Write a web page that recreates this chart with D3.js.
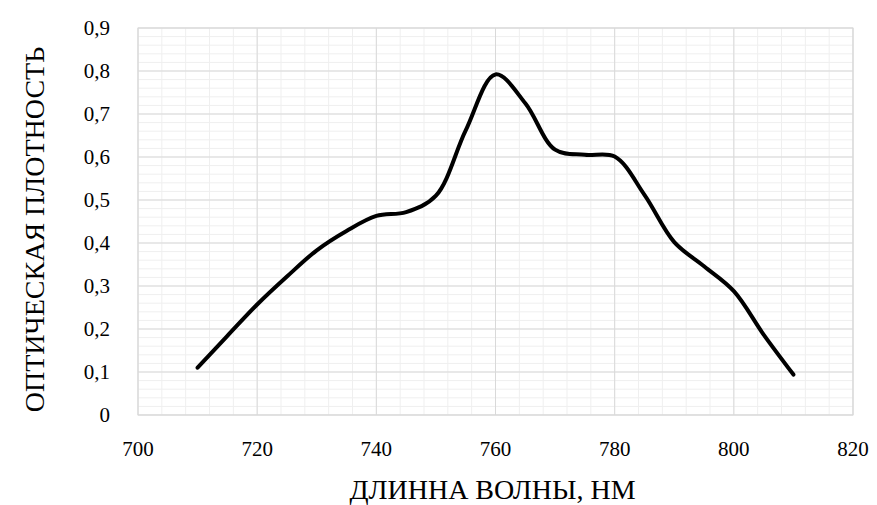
<!DOCTYPE html>
<html>
<head>
<meta charset="utf-8">
<script src="https://cdn.jsdelivr.net/npm/d3@7"></script>
</head>
<body style="margin:0">
<svg id="plot" width="877" height="505"></svg>
<script>
// Wavelength, nm
const wavelengths = [710, 715, 720, 725, 730, 735, 740, 745, 750, 755, 760,
  765, 770, 775, 780, 785, 790, 795, 800, 805, 810];
// Optical density
const density = [0.11, 0.184, 0.257, 0.322, 0.383, 0.428, 0.463, 0.472, 0.51, 0.662, 0.792,
  0.725, 0.617, 0.605, 0.601, 0.512, 0.402, 0.346, 0.288, 0.187, 0.094];

const xTicks = [700, 720, 740, 760, 780, 800, 820];
const yTicks = [0, 0.1, 0.2, 0.3, 0.4, 0.5, 0.6, 0.7, 0.8, 0.9];

const xTitle = 'ДЛИННА ВОЛНЫ, НМ';
const yTitle = 'ОПТИЧЕСКАЯ ПЛОТНОСТЬ';

const margin = { top: 28, right: 24, bottom: 90, left: 138 };
const W = 877, H = 505;
const chartWidth = W - margin.left - margin.right;
const chartHeight = H - margin.top - margin.bottom;

const svg = d3.select('#plot');
const g = svg.append('g')
  .attr('transform', `translate(${margin.left},${margin.top})`);

const x = d3.scaleLinear().domain([700, 820]).range([0, chartWidth]);
const y = d3.scaleLinear().domain([0, 0.9]).range([chartHeight, 0]);

// Minor grid first, major on top of it.
g.append('g')
  .selectAll('line')
  .data(d3.range(700, 820.01, 4))
  .join('line')
  .attr('x1', d => x(d)).attr('x2', d => x(d))
  .attr('y1', 0).attr('y2', chartHeight)
  .attr('stroke', '#efefef');

g.append('g')
  .selectAll('line')
  .data(d3.range(0, 0.9001, 0.02))
  .join('line')
  .attr('x1', 0).attr('x2', chartWidth)
  .attr('y1', d => y(d)).attr('y2', d => y(d))
  .attr('stroke', '#efefef');

g.append('g')
  .selectAll('line')
  .data(xTicks)
  .join('line')
  .attr('x1', d => x(d)).attr('x2', d => x(d))
  .attr('y1', 0).attr('y2', chartHeight)
  .attr('stroke', '#d9d9d9');

g.append('g')
  .selectAll('line')
  .data(yTicks)
  .join('line')
  .attr('x1', 0).attr('x2', chartWidth)
  .attr('y1', d => y(d)).attr('y2', d => y(d))
  .attr('stroke', '#d9d9d9');

g.append('rect')
  .attr('width', chartWidth).attr('height', chartHeight)
  .attr('fill', 'none').attr('stroke', '#d9d9d9');

// Tick labels, placed with the same scales.
const fmt = d => String(Math.round(d * 10) / 10).replace('.', ',');

g.append('g')
  .selectAll('text')
  .data(xTicks)
  .join('text')
  .attr('x', d => x(d))
  .attr('y', chartHeight + 41)
  .attr('text-anchor', 'middle')
  .attr('font-family', 'Liberation Serif')
  .attr('font-size', 21)
  .text(d => d);

g.append('g')
  .selectAll('text')
  .data(yTicks)
  .join('text')
  .attr('x', -28)
  .attr('y', d => y(d) + 7)
  .attr('text-anchor', 'end')
  .attr('font-family', 'Liberation Serif')
  .attr('font-size', 21)
  .text(fmt);

// Curve
const line = d3.line()
  .x((d, i) => x(wavelengths[i]))
  .y(d => y(d))
  .curve(d3.curveCatmullRom.alpha(0.5));

g.append('path')
  .datum(density)
  .attr('d', line)
  .attr('fill', 'none')
  .attr('stroke', '#000')
  .attr('stroke-width', 4)
  .attr('stroke-linejoin', 'round')
  .attr('stroke-linecap', 'round');

// Axis titles
svg.append('text')
  .attr('x', margin.left + chartWidth / 2 - 3)
  .attr('y', 499)
  .attr('text-anchor', 'middle')
  .attr('font-family', 'Liberation Serif')
  .attr('font-size', 28)
  .text(xTitle);

svg.append('text')
  .attr('transform', `translate(44,${margin.top + chartHeight / 2 + 8}) rotate(-90)`)
  .attr('text-anchor', 'middle')
  .attr('font-family', 'Liberation Serif')
  .attr('font-size', 28)
  .text(yTitle);
</script>
</body>
</html>
